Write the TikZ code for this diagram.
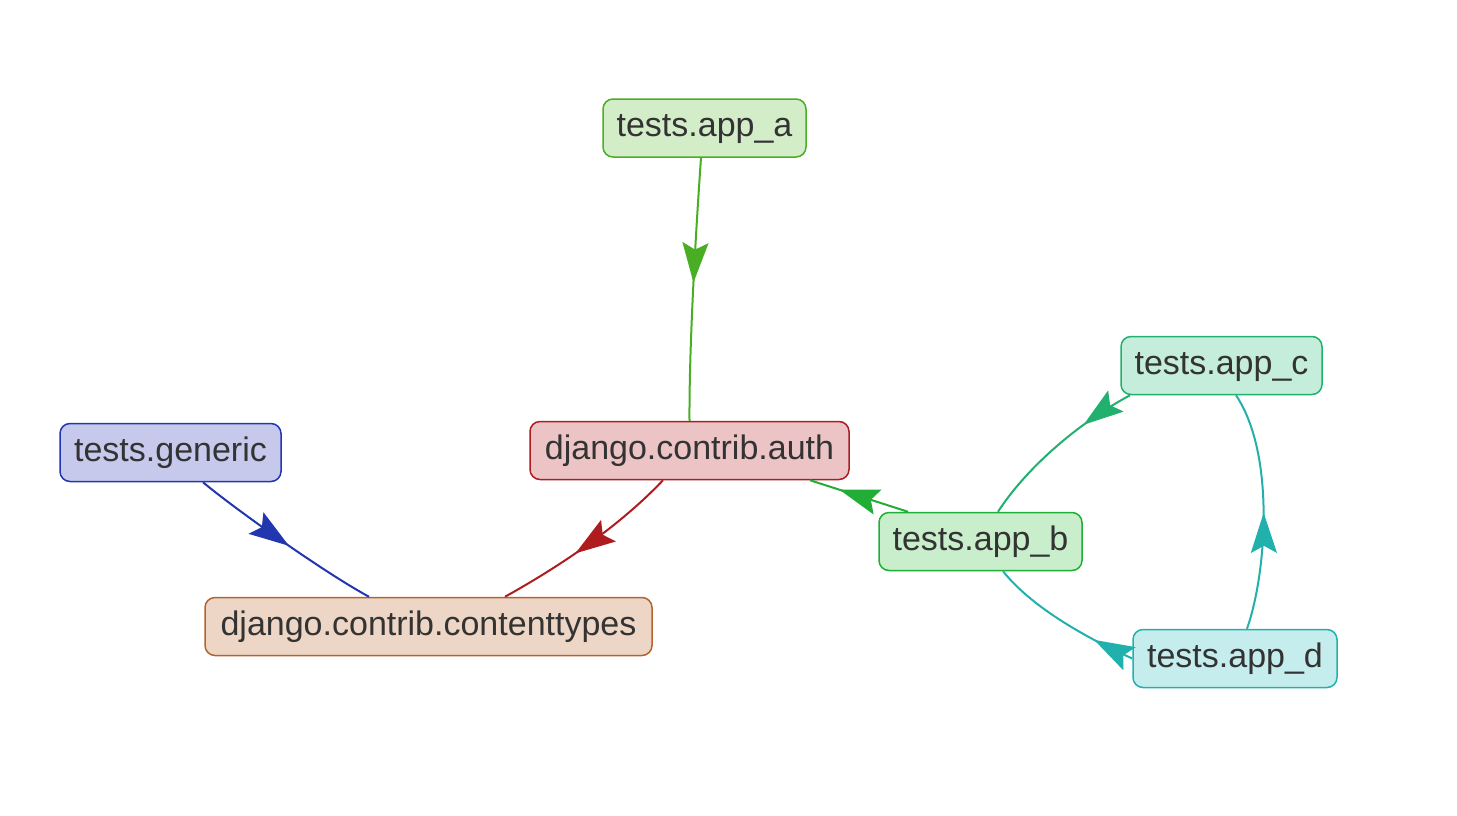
\documentclass[tikz,border=0pt]{standalone}
\usepackage{fontspec}
\setmainfont{Liberation Sans}
\usetikzlibrary{arrows.meta,decorations.markings}
\definecolor{txt}{HTML}{333333}
\definecolor{cA}{HTML}{4AAE24}\definecolor{fA}{HTML}{D4EDC9}
\definecolor{cAuth}{HTML}{AE1C1F}\definecolor{fAuth}{HTML}{ECC4C6}
\definecolor{cGen}{HTML}{2236B0}\definecolor{fGen}{HTML}{C7C9EC}
\definecolor{cCt}{HTML}{B5632D}\definecolor{fCt}{HTML}{EDD6C5}
\definecolor{cC}{HTML}{22B06E}\definecolor{fC}{HTML}{C5EDDB}
\definecolor{cB}{HTML}{22AE36}\definecolor{fB}{HTML}{C8EECB}
\definecolor{cD}{HTML}{22B0AD}\definecolor{fD}{HTML}{C5EDED}
\begin{document}
\begin{tikzpicture}[x=1pt,y=-1pt,
  box/.style={draw, rounded corners=10pt, line width=1.5pt,
    font=\fontsize{34}{40}\selectfont, text=txt, minimum height=58pt,
    inner xsep=4pt, inner ysep=0pt, text height=24pt, text depth=7pt},
  edge/.style={line width=2pt},
  midarrow/.style={postaction={decorate, decoration={markings,
    mark=at position #1 with {\arrow{Stealth[length=40pt,width=26pt,inset=7pt]}}}}}
]
\useasboundingbox (0,0) rectangle (1457,815);

\node[box, draw=cA, fill=fA, minimum width=203pt] (appa) at (704.5,128) {tests.app\_a};
\node[box, draw=cAuth, fill=fAuth, minimum width=319pt] (auth) at (689.5,450.5) {django.contrib.auth};
\node[box, draw=cGen, fill=fGen, minimum width=221pt] (gen) at (170.5,452.5) {tests.generic};
\node[box, draw=cCt, fill=fCt, minimum width=447pt] (ct) at (428.5,626.5) {django.contrib.contenttypes};
\node[box, draw=cC, fill=fC, minimum width=201pt] (appc) at (1221.5,365.5) {tests.app\_c};
\node[box, draw=cB, fill=fB, minimum width=203pt] (appb) at (980.5,541.5) {tests.app\_b};
\node[box, draw=cD, fill=fD, minimum width=204pt] (appd) at (1235,658.5) {tests.app\_d};

\draw[edge, cA, midarrow=0.475] ([xshift=-3.5pt]appa.south) .. controls (697,215) and (689,340) .. (auth.north);
\draw[edge, cAuth, midarrow=0.58] ([xshift=-26.5pt]auth.south) .. controls (630,515) and (580,555) .. ([xshift=76.5pt]ct.north);
\draw[edge, cGen, midarrow=0.53] ([xshift=32.5pt]gen.south) .. controls (230,505) and (320,570) .. ([xshift=-59.5pt]ct.north);
\draw[edge, cB, midarrow=0.70] ([xshift=-72.5pt]appb.north) -- ([xshift=120.5pt]auth.south);
\draw[edge, cC, midarrow=0.31] ([xshift=-91.5pt]appc.south) .. controls (1075,425) and (1025,470) .. ([xshift=17.5pt]appb.north);
\draw[edge, cD, midarrow=0.27] (appd.west) .. controls (1080,635) and (1030,605) .. ([xshift=22.5pt]appb.south);
\draw[edge, cD, midarrow=0.49] ([xshift=12pt]appd.north) .. controls (1266,575) and (1276,455) .. ([xshift=14.5pt]appc.south);
\end{tikzpicture}
\end{document}
